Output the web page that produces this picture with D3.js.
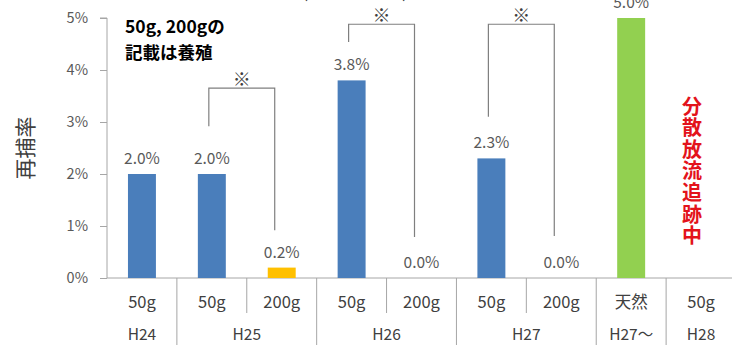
<!DOCTYPE html>
<html>
<head>
<meta charset="utf-8">
<script src="https://cdn.jsdelivr.net/npm/d3@7/dist/d3.min.js"></script>
<style>
  html, body { margin: 0; padding: 0; background: #fff; }
  svg { display: block; }
  text { font-family: "Noto Sans CJK JP", "Noto Sans", sans-serif; }
</style>
</head>
<body>
<svg id="chart" width="732" height="345"></svg>
<script>
// Recapture rate by release year and fish size
const sizes = ["50g", "50g", "200g", "50g", "200g", "50g", "200g", "天然", "50g"];
const years = ["H24", "H25", "H25", "H26", "H26", "H27", "H27", "H27〜", "H28"];
const rates = [2.0, 2.0, 0.2, 3.8, 0.0, 2.3, 0.0, 5.0, null];
const yTicks = [0, 1, 2, 3, 4, 5];

// Significance brackets (indices of the compared slots; heights in %)
const brackets = [
  { from: 1, to: 2, top: 3.65, leftEnd: 2.92, rightEnd: 0.92 },
  { from: 3, to: 4, top: 4.88, leftEnd: 4.54, rightEnd: 0.79 },
  { from: 5, to: 6, top: 4.88, leftEnd: 3.10, rightEnd: 0.81 }
];

const noteLines = ["50g, 200gの", "記載は養殖"];
const trackingNote = "分散放流追跡中";
const yTitle = "再捕率";

const svg = d3.select("#chart");
const plot = { left: 107, right: 736, top: 18, bottom: 278 };

const slots = d3.range(sizes.length);
const x = d3.scaleBand().domain(slots).range([plot.left, plot.right]).paddingInner(0).paddingOuter(0);
const y = d3.scaleLinear().domain([0, 5]).range([plot.bottom, plot.top]);

const color = d3.scaleOrdinal()
  .domain(["50g", "200g", "天然"])
  .range(["#4a7ebb", "#ffc000", "#92d050"]);

const axisGrey = "#a6a6a6";
const labelGrey = "#595959";

// Y axis
const yAxis = d3.axisLeft(y).tickValues(yTicks).tickFormat(d => d + "%").tickSize(7).tickPadding(12);
const gy = svg.append("g").attr("transform", `translate(${plot.left},0)`).call(yAxis);
gy.select(".domain").attr("stroke", axisGrey).attr("d", `M-7,${plot.top}H0V${plot.bottom}`);
gy.selectAll(".tick line").attr("stroke", axisGrey);
gy.selectAll(".tick text")
  .attr("fill", labelGrey)
  .style("font-size", "14.5px")
  .style("font-family", "'Noto Sans CJK JP', sans-serif");

// Y axis title
svg.append("text")
  .attr("transform", `translate(33,148) rotate(-90)`)
  .attr("text-anchor", "middle")
  .attr("fill", "#404040")
  .style("font-size", "21px")
  .text(yTitle);

// Category axis baseline
svg.append("line")
  .attr("x1", plot.left).attr("x2", plot.right)
  .attr("y1", plot.bottom).attr("y2", plot.bottom)
  .attr("stroke", axisGrey);

// Separators: full height between year groups, short within a group
slots.slice(1).forEach(i => {
  const sameGroup = years[i] === years[i - 1];
  svg.append("line")
    .attr("x1", x(i)).attr("x2", x(i))
    .attr("y1", plot.bottom)
    .attr("y2", sameGroup ? 313 : 345)
    .attr("stroke", axisGrey);
});

// Size labels
svg.append("g").selectAll("text").data(slots).join("text")
  .attr("x", i => x(i) + x.bandwidth() / 2)
  .attr("y", 308)
  .attr("text-anchor", "middle")
  .attr("fill", "#404040")
  .style("font-size", "16.5px")
  .text(i => sizes[i]);

// Year group labels
const groups = [];
slots.forEach(i => {
  const last = groups[groups.length - 1];
  if (last && last.name === years[i]) last.end = i;
  else groups.push({ name: years[i], start: i, end: i });
});
svg.append("g").selectAll("text").data(groups).join("text")
  .attr("x", g => (x(g.start) + x(g.end) + x.bandwidth()) / 2)
  .attr("y", 340)
  .attr("text-anchor", "middle")
  .attr("fill", "#404040")
  .style("font-size", "15.5px")
  .text(g => g.name);

// Bars
const barW = x.bandwidth() * 0.4;
const withValue = slots.filter(i => rates[i] !== null);
svg.append("g").selectAll("rect").data(withValue).join("rect")
  .attr("x", i => x(i) + (x.bandwidth() - barW) / 2)
  .attr("width", barW)
  .attr("y", i => y(rates[i]))
  .attr("height", i => y(0) - y(rates[i]))
  .attr("fill", i => color(sizes[i]));

// Value labels
svg.append("g").selectAll("text").data(withValue).join("text")
  .attr("x", i => x(i) + x.bandwidth() / 2)
  .attr("y", i => y(rates[i]) - 10)
  .attr("text-anchor", "middle")
  .attr("fill", labelGrey)
  .style("font-size", "15.5px")
  .text(i => rates[i].toFixed(1) + "%");

// Significance brackets
const bg = svg.append("g");
brackets.forEach(b => {
  const xl = x(b.from) + x.bandwidth() / 2 - 3;
  const xr = x(b.to) + x.bandwidth() / 2 - 7;
  bg.append("path")
    .attr("d", `M${xl},${y(b.leftEnd)}V${y(b.top)}H${xr}V${y(b.rightEnd)}`)
    .attr("fill", "none")
    .attr("stroke", "#7f7f7f")
    .attr("stroke-width", 1.2);
  bg.append("text")
    .attr("x", (xl + xr) / 2)
    .attr("y", y(b.top) - 2)
    .attr("text-anchor", "middle")
    .attr("fill", "#404040")
    .style("font-size", "18px")
    .text("※");
});

// Heading, clipped at the top edge
svg.append("text").attr("x", 302).attr("y", -2).attr("fill", "#333").style("font-size", "18px").text("(");
svg.append("text").attr("x", 402).attr("y", -2).attr("fill", "#333").style("font-size", "18px").text(")");

// Note on the farmed sizes
svg.append("g").selectAll("text").data(noteLines).join("text")
  .attr("x", 125)
  .attr("y", (d, i) => 33 + i * 26)
  .attr("fill", "#000")
  .style("font-size", "17.5px")
  .style("font-weight", "bold")
  .text(d => d);

// Vertical red note for the last slot
svg.append("text")
  .attr("x", 692)
  .attr("y", 96)
  .style("writing-mode", "vertical-rl")
  .style("letter-spacing", "1.6px")
  .attr("fill", "#e3131b")
  .style("font-size", "20px")
  .style("font-weight", "bold")
  .text(trackingNote);
</script>
</body>
</html>
